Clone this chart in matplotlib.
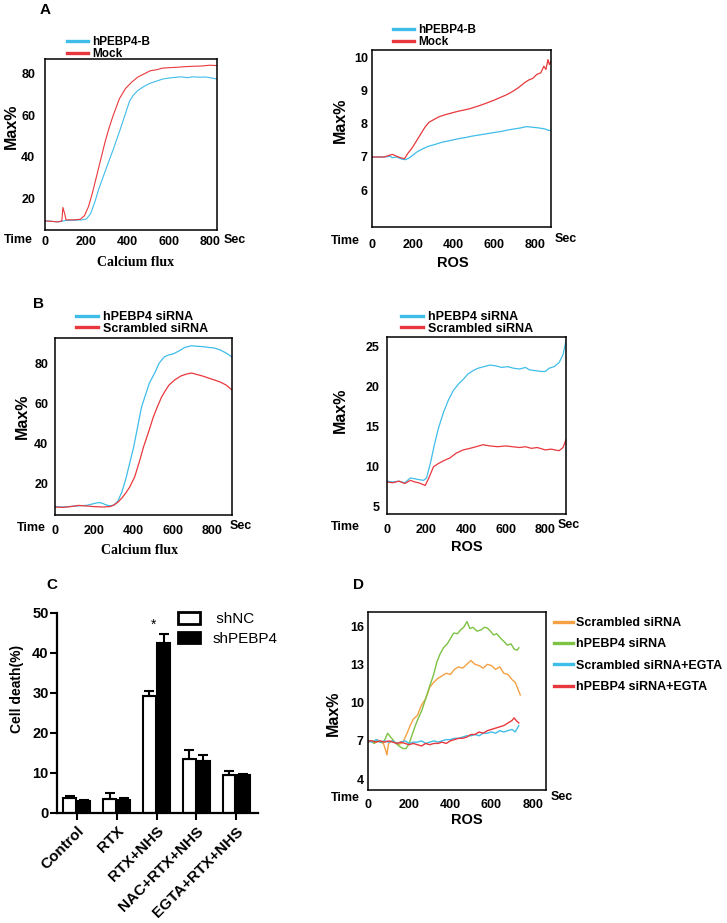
import matplotlib
matplotlib.use("Agg")
import matplotlib.pyplot as plt
from matplotlib.lines import Line2D
from matplotlib.patches import Patch

plt.rcParams['font.family'] = ['Liberation Sans', 'DejaVu Sans']

W, H = 727, 923
CYAN = '#3fbde9'
RED = '#e8383d'
ORANGE = '#f5a043'
GREEN = '#7cc243'

# ---- panel A, calcium flux ----
a1_t_cyan = [0, 20, 40, 60, 80, 100, 140, 180, 200, 220, 240, 260, 280, 300, 330, 360, 390,
             410, 430, 450, 480, 510, 540, 570, 600, 630, 660, 690, 720, 750, 780, 810, 835]
a1_cyan = [9.0, 8.9, 8.7, 8.5, 8.8, 9.2, 9.3, 9.5, 10.0, 12.5, 18.0, 24.5, 30.0, 35.5, 43.5, 52.0, 61.0,
           67.0, 70.0, 72.0, 74.0, 75.5, 76.5, 77.5, 78.0, 78.3, 78.6, 78.2, 78.6, 78.4, 78.5, 78.0, 77.5]
a1_t_red = [0, 40, 60, 80, 85, 95, 100, 140, 170, 190, 210, 230, 250, 270, 290, 310, 330, 360, 390,
            420, 450, 480, 510, 540, 570, 600, 640, 680, 720, 760, 800, 835]
a1_red = [9.0, 8.7, 8.5, 9.0, 15.5, 12.0, 9.5, 9.5, 9.8, 11.5, 16.0, 23.0, 31.0, 39.0, 47.0, 54.0, 60.0,
          68.0, 73.0, 76.0, 78.5, 80.0, 81.5, 82.0, 82.8, 83.0, 83.2, 83.5, 83.7, 83.8, 84.2, 84.0]

# ---- panel A, ROS ----
a2_t_cyan = [0, 30, 60, 90, 100, 120, 150, 165, 180, 200, 220, 250, 280, 310, 340, 370, 400, 430, 460,
             490, 520, 550, 580, 610, 640, 670, 700, 730, 760, 790, 820, 850, 870, 880]
a2_cyan = [7.0, 7.0, 7.0, 7.02, 6.98, 7.0, 6.93, 6.92, 6.96, 7.05, 7.15, 7.25, 7.33, 7.38, 7.44, 7.48,
           7.52, 7.56, 7.59, 7.63, 7.66, 7.69, 7.72, 7.75, 7.78, 7.82, 7.85, 7.88, 7.92, 7.9, 7.88,
           7.85, 7.8, 7.82]
a2_t_red = [0, 30, 60, 90, 100, 115, 130, 150, 160, 175, 200, 230, 260, 280, 300, 330, 360, 390, 420,
            450, 480, 510, 540, 570, 600, 630, 660, 690, 720, 750, 770, 790, 810, 830, 845, 855, 865,
            872, 880]
a2_red = [7.0, 7.0, 7.0, 7.06, 7.08, 7.04, 7.0, 6.96, 6.95, 7.1, 7.3, 7.6, 7.9, 8.05, 8.12, 8.22, 8.28,
          8.33, 8.38, 8.42, 8.46, 8.52, 8.58, 8.65, 8.72, 8.8, 8.88, 8.98, 9.1, 9.25, 9.33, 9.38, 9.5,
          9.55, 9.75, 9.65, 9.95, 9.8, 9.9]

# ---- panel B, calcium flux ----
b1_t_cyan = [0, 40, 80, 120, 160, 190, 210, 225, 240, 260, 280, 300, 320, 340, 360, 380, 400, 420,
             440, 460, 480, 507, 530, 555, 577, 600, 630, 660, 694, 720, 750, 780, 810, 840, 870, 900]
b1_cyan = [8.2, 8.0, 8.3, 8.6, 8.8, 9.5, 10.0, 10.2, 9.9, 9.0, 8.6, 9.0, 11.0, 15.5, 22.0, 30.0, 38.0,
           48.0, 58.0, 64.0, 70.0, 75.0, 80.0, 83.0, 84.0, 84.5, 86.0, 87.8, 88.6, 88.4, 88.2, 87.8,
           87.5, 86.5, 85.0, 83.0]
b1_t_red = [0, 40, 80, 120, 160, 200, 240, 280, 300, 322, 340, 360, 380, 405, 430, 450, 474, 500, 520,
            542, 560, 580, 608, 640, 670, 694, 720, 750, 780, 810, 840, 870, 900]
b1_red = [8.0, 7.8, 8.2, 8.8, 8.5, 8.2, 8.0, 8.2, 9.0, 10.6, 12.5, 15.0, 18.0, 23.0, 31.0, 38.0, 45.0,
          53.0, 58.0, 63.0, 66.0, 69.0, 71.5, 73.5, 74.5, 75.0, 74.3, 73.5, 72.5, 71.5, 70.5, 69.0, 66.5]

# ---- panel B, ROS ----
b2_t_cyan = [0, 30, 60, 90, 118, 140, 160, 185, 200, 220, 240, 260, 285, 310, 335, 360, 385, 410, 435,
             460, 490, 520, 550, 580, 610, 640, 670, 700, 720, 750, 780, 800, 820, 845, 870, 890, 905]
b2_cyan = [8.2, 8.1, 8.2, 8.0, 8.6, 8.5, 8.4, 8.3, 8.6, 10.5, 12.8, 14.8, 16.75, 18.3, 19.5, 20.3, 20.9,
           21.6, 22.0, 22.3, 22.5, 22.7, 22.6, 22.4, 22.5, 22.3, 22.2, 22.4, 22.1, 22.0, 21.9, 21.9,
           22.3, 22.5, 23.0, 24.0, 25.7]
b2_t_red = [0, 30, 60, 90, 118, 140, 160, 180, 193, 210, 235, 260, 290, 318, 350, 385, 420, 450, 485,
            520, 560, 600, 635, 670, 700, 730, 760, 800, 830, 870, 890, 905]
b2_red = [8.1, 8.0, 8.2, 7.9, 8.3, 8.1, 8.0, 7.8, 7.66, 8.5, 10.0, 10.4, 10.8, 11.1, 11.7, 12.1, 12.3,
          12.5, 12.75, 12.6, 12.5, 12.6, 12.5, 12.4, 12.5, 12.3, 12.4, 12.1, 12.2, 12.0, 12.4, 13.4]

# ---- panel C, cell death ----
groups = ['Control', 'RTX', 'RTX+NHS', 'NAC+RTX+NHS', 'EGTA+RTX+NHS']
shnc = [3.8, 3.6, 29.2, 13.6, 9.4]
shnc_err = [0.4, 1.5, 1.3, 2.2, 1.2]
shpebp4 = [3.0, 3.2, 42.5, 12.9, 9.5]
shpebp4_err = [0.3, 0.6, 2.2, 1.7, 0.3]

# ---- panel D, ROS with EGTA ----
d_t_orange = [0, 15, 30, 45, 60, 75, 85, 92, 100, 115, 130, 150, 170, 190, 205, 220, 240, 260, 280,
              300, 320, 340, 360, 380, 400, 420, 440, 460, 480, 500, 520, 540, 560, 580, 600, 620,
              640, 660, 680, 700, 715, 730, 740]
d_orange = [6.9, 7.0, 6.8, 7.1, 6.9, 6.8, 6.3, 5.9, 6.8, 7.0, 6.9, 6.7, 6.9, 7.6, 8.2, 8.7, 9.0, 9.8,
            10.3, 11.2, 11.6, 11.9, 12.1, 12.3, 12.2, 12.6, 12.8, 12.7, 13.0, 13.3, 13.0, 12.9, 12.7,
            13.0, 12.9, 12.6, 12.8, 12.3, 12.2, 11.8, 11.6, 11.0, 10.6]
d_t_green = [0, 15, 30, 45, 60, 75, 85, 95, 110, 130, 150, 170, 185, 200, 215, 230, 245, 262, 280, 300,
             319, 335, 350, 367, 385, 400, 416, 435, 450, 465, 481, 495, 510, 530, 550, 565, 579,
             595, 610, 625, 644, 660, 677, 695, 710, 725, 733]
d_green = [6.9, 7.0, 6.8, 7.0, 6.9, 6.9, 7.2, 7.6, 7.3, 6.9, 6.6, 6.4, 6.4, 6.8, 7.5, 8.2, 8.8, 9.4,
           10.3, 11.3, 12.2, 13.2, 13.8, 14.3, 14.6, 15.0, 15.45, 15.4, 15.7, 15.9, 16.35, 15.8, 15.9,
           15.6, 15.7, 15.9, 15.85, 15.6, 15.3, 15.4, 15.05, 14.8, 14.5, 14.6, 14.2, 14.1, 14.3]
d_t_cyan = [0, 20, 40, 60, 80, 100, 120, 140, 160, 180, 200, 220, 240, 260, 280, 300, 320, 340, 360,
            380, 400, 420, 440, 460, 480, 500, 520, 540, 560, 580, 600, 620, 640, 660, 680, 700, 715, 733]
d_cyan = [7.0, 6.9, 7.1, 6.9, 7.0, 6.9, 7.0, 6.8, 6.9, 7.0, 6.8, 6.9, 6.9, 7.0, 6.8, 6.9, 7.0, 6.9,
          7.0, 7.1, 7.1, 7.2, 7.2, 7.3, 7.4, 7.4, 7.5, 7.4, 7.6, 7.6, 7.7, 7.6, 7.8, 7.7, 7.8, 7.9,
          7.7, 8.2]
d_t_red = [0, 20, 40, 60, 80, 100, 120, 140, 160, 180, 200, 220, 240, 260, 280, 300, 320, 340, 360,
           380, 400, 420, 440, 460, 480, 500, 520, 540, 560, 580, 600, 620, 640, 660, 680, 700, 710,
           720, 733]
d_red = [7.0, 7.0, 6.9, 7.0, 6.9, 7.0, 6.9, 6.8, 6.9, 6.8, 6.7, 6.8, 6.7, 6.6, 6.8, 6.7, 6.8, 6.8,
         6.9, 6.8, 7.0, 7.1, 7.2, 7.2, 7.3, 7.5, 7.5, 7.7, 7.6, 7.8, 7.9, 8.0, 8.1, 8.2, 8.4, 8.6,
         8.8, 8.6, 8.4]

time_ticks = [0, 200, 400, 600, 800]


def fx(px):
    return px / W


def fy(py):
    return 1 - py / H


def add_ax(x0, y0, x1, y1):
    return fig.add_axes([fx(x0), fy(y1), (x1 - x0) / W, (y1 - y0) / H])


def style_trace(ax, xlim, ylim, yticks, xpad, ypad):
    ax.set_xlim(*xlim)
    ax.set_ylim(*ylim)
    ax.set_xticks(time_ticks)
    ax.set_yticks(yticks)
    ax.tick_params(axis='x', length=0, pad=xpad, labelsize=9)
    ax.tick_params(axis='y', length=0, pad=ypad, labelsize=9)
    for lab in ax.get_xticklabels() + ax.get_yticklabels():
        lab.set_fontweight('bold')
    for s in ax.spines.values():
        s.set_linewidth(1.1)


def ftext(px, py, s, **kw):
    fig.text(fx(px), fy(py), s, ha='center', va='center', **kw)


def trace_legend(ax, labels, colors, px, py, size, spacing):
    handles = [Line2D([], [], color=c, lw=2.4) for c in colors]
    ax.legend(handles, labels, loc='center left', bbox_to_anchor=(fx(px), fy(py)),
              bbox_transform=fig.transFigure, frameon=False, borderpad=0, borderaxespad=0,
              handlelength=1.75, handletextpad=0.4, labelspacing=spacing,
              prop={'weight': 'bold', 'size': size})


fig = plt.figure(figsize=(W / 100, H / 100), dpi=100)

# ---------- A left ----------
ax = add_ax(45, 59, 217, 230)
ax.plot(a1_t_cyan, a1_cyan, color=CYAN, lw=0.8)
ax.plot(a1_t_red, a1_red, color=RED, lw=0.8)
style_trace(ax, (-2, 835), (4.6, 87.2), [20, 40, 60, 80], 4, 7)
trace_legend(ax, ['hPEBP4-B', 'Mock'], [CYAN, RED], 67, 48, 8.5, -0.05)
ftext(18, 240, 'Time', fontsize=9, fontweight='bold')
ftext(235, 240, 'Sec', fontsize=9, fontweight='bold')
ftext(136, 262, 'Calcium flux', fontsize=10, fontweight='bold', family='Liberation Serif')
ftext(11, 126, 'Max%', fontsize=11.5, fontweight='bold', rotation=90)
ftext(45, 10, 'A', fontsize=11, fontweight='bold')

# ---------- A right ----------
ax = add_ax(372, 50, 551, 227)
ax.plot(a2_t_cyan, a2_cyan, color=CYAN, lw=0.9)
ax.plot(a2_t_red, a2_red, color=RED, lw=0.9)
style_trace(ax, (0, 880), (4.88, 10.24), [6, 7, 8, 9, 10], 8.5, 3)
trace_legend(ax, ['hPEBP4-B', 'Mock'], [CYAN, RED], 393, 36, 8.5, -0.05)
ftext(345, 241, 'Time', fontsize=9, fontweight='bold')
ftext(566, 239, 'Sec', fontsize=9, fontweight='bold')
ftext(453, 263, 'ROS', fontsize=10.5, fontweight='bold')
ftext(340, 120, 'Max%', fontsize=11.5, fontweight='bold', rotation=90)

# ---------- B left ----------
ax = add_ax(55, 338, 232, 515)
ax.plot(b1_t_cyan, b1_cyan, color=CYAN, lw=0.9)
ax.plot(b1_t_red, b1_red, color=RED, lw=0.9)
style_trace(ax, (0, 900), (4.0, 92.5), [20, 40, 60, 80], 7.5, 5)
trace_legend(ax, ['hPEBP4 siRNA', 'Scrambled siRNA'], [CYAN, RED], 76, 323, 9, -0.05)
ftext(31, 528, 'Time', fontsize=9, fontweight='bold')
ftext(241, 526, 'Sec', fontsize=9, fontweight='bold')
ftext(140, 550, 'Calcium flux', fontsize=10, fontweight='bold', family='Liberation Serif')
ftext(22, 416, 'Max%', fontsize=11.5, fontweight='bold', rotation=90)
ftext(38, 304, 'B', fontsize=11, fontweight='bold')

# ---------- B right ----------
ax = add_ax(387, 337, 566, 514)
ax.plot(b2_t_cyan, b2_cyan, color=CYAN, lw=0.9)
ax.plot(b2_t_red, b2_red, color=RED, lw=0.9)
style_trace(ax, (0, 905), (4.1, 26.2), [5, 10, 15, 20, 25], 7, 5.5)
trace_legend(ax, ['hPEBP4 siRNA', 'Scrambled siRNA'], [CYAN, RED], 401, 323, 9, -0.05)
ftext(345, 527, 'Time', fontsize=9, fontweight='bold')
ftext(569, 525, 'Sec', fontsize=9, fontweight='bold')
ftext(467, 547, 'ROS', fontsize=10.5, fontweight='bold')
ftext(340, 410, 'Max%', fontsize=11.5, fontweight='bold', rotation=90)

# ---------- C ----------
ax = add_ax(57, 613, 258, 813)
x = list(range(len(groups)))
bw = 0.32
xl = [i - 0.18 for i in x]
xr = [i + 0.18 for i in x]
ax.bar(xl, shnc, width=bw, color='white', edgecolor='black', linewidth=1.5)
ax.bar(xr, shpebp4, width=bw, color='black', edgecolor='black', linewidth=1.5)
ax.errorbar(xl, shnc, yerr=[[0] * len(shnc), shnc_err], fmt='none', ecolor='black',
            elinewidth=1.5, capsize=3.5, capthick=1.5)
ax.errorbar(xr, shpebp4, yerr=[[0] * len(shpebp4), shpebp4_err], fmt='none', ecolor='black',
            elinewidth=1.5, capsize=3.5, capthick=1.5)
ax.text(2 - 0.07, shpebp4[2] + shpebp4_err[2] + 0.6, '*', ha='center', va='bottom', fontsize=10)
ax.set_xlim(-0.5, 4.55)
ax.set_ylim(0, 50)
ax.set_yticks([0, 10, 20, 30, 40, 50])
ax.set_xticks(x)
ax.set_xticklabels(groups, rotation=45, ha='right', rotation_mode='anchor',
                   fontsize=11, fontweight='bold')
for lab in ax.get_yticklabels():
    lab.set_fontweight('bold')
ax.tick_params(axis='y', length=5, width=1.5, labelsize=10.5, pad=1)
ax.tick_params(axis='x', length=5, width=1.5, pad=3)
ax.spines['top'].set_visible(False)
ax.spines['right'].set_visible(False)
ax.spines['left'].set_linewidth(1.6)
ax.spines['bottom'].set_linewidth(1.6)
ftext(17, 689, 'Cell death(%)', fontsize=10, fontweight='bold', rotation=90)
hnd = [Patch(facecolor='white', edgecolor='black', linewidth=2),
       Patch(facecolor='black', edgecolor='black', linewidth=2)]
ax.legend(hnd, [' shNC', 'shPEBP4'], loc='center left', bbox_to_anchor=(fx(178), fy(629)),
          bbox_transform=fig.transFigure, frameon=False, borderpad=0, borderaxespad=0,
          handlelength=1.45, handleheight=0.8, handletextpad=0.8, labelspacing=0.35,
          prop={'size': 11})
ftext(52, 585, 'C', fontsize=11, fontweight='bold')

# ---------- D ----------
ax = add_ax(368, 612, 546, 790)
ax.plot(d_t_orange, d_orange, color=ORANGE, lw=1.0)
ax.plot(d_t_green, d_green, color=GREEN, lw=1.0)
ax.plot(d_t_cyan, d_cyan, color=CYAN, lw=1.0)
ax.plot(d_t_red, d_red, color=RED, lw=1.0)
style_trace(ax, (0, 865), (3.15, 17.1), [4, 7, 10, 13, 16], 6.3, 3)
handles = [Line2D([], [], color=c, lw=2.4) for c in [ORANGE, GREEN, CYAN, RED]]
ax.legend(handles, ['Scrambled siRNA', 'hPEBP4 siRNA', 'Scrambled siRNA+EGTA', 'hPEBP4 siRNA+EGTA'],
          loc='center left', bbox_to_anchor=(fx(554), fy(655)), bbox_transform=fig.transFigure,
          frameon=False, borderpad=0, borderaxespad=0, handlelength=1.5, handletextpad=0.25,
          labelspacing=0.75, prop={'weight': 'bold', 'size': 9})
ftext(345, 798, 'Time', fontsize=9, fontweight='bold')
ftext(562, 797, 'Sec', fontsize=9, fontweight='bold')
ftext(467, 820, 'ROS', fontsize=10.5, fontweight='bold')
ftext(333, 713, 'Max%', fontsize=11.5, fontweight='bold', rotation=90)
ftext(358, 585, 'D', fontsize=11, fontweight='bold')

fig.savefig('out.png', dpi=100)
